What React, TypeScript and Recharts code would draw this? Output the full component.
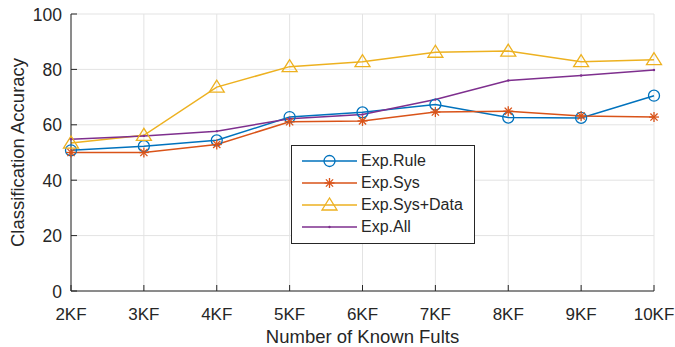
import { LineChart, Line, XAxis, YAxis, CartesianGrid, Legend } from 'recharts';

const categories = ['2KF', '3KF', '4KF', '5KF', '6KF', '7KF', '8KF', '9KF', '10KF'];
const expRule = [50.8, 52.3, 54.4, 62.8, 64.5, 67.3, 62.6, 62.5, 70.5];
const expSys = [50.0, 50.0, 52.9, 61.1, 61.4, 64.6, 64.9, 63.2, 62.8];
const expSysData = [53.4, 56.2, 73.6, 81.0, 82.8, 86.2, 86.6, 82.8, 83.5];
const expAll = [54.8, 56.0, 57.7, 62.2, 63.7, 69.1, 76.0, 77.8, 79.8];
const yTicks = [0, 20, 40, 60, 80, 100];

const data = categories.map((c, i) => ({
  name: c,
  rule: expRule[i],
  sys: expSys[i],
  sysData: expSysData[i],
  all: expAll[i],
}));

const BLUE = '#0072BD';
const ORANGE = '#D95319';
const YELLOW = '#EDB120';
const PURPLE = '#7E2F8E';
const TEXT = '#262626';
const FONT = '"Liberation Sans", Arial, sans-serif';

function Circle(cx: number, cy: number, color: string) {
  return <circle cx={cx} cy={cy} r={5.5} fill="none" stroke={color} strokeWidth={1.3} />;
}

function Star(cx: number, cy: number, color: string) {
  const s = 5;
  const d = 3.6;
  return (
    <g stroke={color} strokeWidth={1.3}>
      <line x1={cx - s} y1={cy} x2={cx + s} y2={cy} />
      <line x1={cx} y1={cy - s} x2={cx} y2={cy + s} />
      <line x1={cx - d} y1={cy - d} x2={cx + d} y2={cy + d} />
      <line x1={cx - d} y1={cy + d} x2={cx + d} y2={cy - d} />
    </g>
  );
}

function Triangle(cx: number, cy: number, color: string) {
  return (
    <polygon
      points={`${cx},${cy - 7} ${cx - 7.5},${cy + 5} ${cx + 7.5},${cy + 5}`}
      fill="none"
      stroke={color}
      strokeWidth={1.3}
    />
  );
}

function Point(cx: number, cy: number, color: string) {
  return <circle cx={cx} cy={cy} r={1.2} fill={color} />;
}

const series = [
  { key: 'rule', name: 'Exp.Rule', color: BLUE, marker: Circle },
  { key: 'sys', name: 'Exp.Sys', color: ORANGE, marker: Star },
  { key: 'sysData', name: 'Exp.Sys+Data', color: YELLOW, marker: Triangle },
  { key: 'all', name: 'Exp.All', color: PURPLE, marker: Point },
];

// MATLAB-style inward ticks, labels outside
const XTick = (props: any) => {
  const { x, y, payload } = props;
  return (
    <g>
      <line x1={x} y1={y} x2={x} y2={y - 6} stroke={TEXT} strokeWidth={1} />
      <text x={x} y={y + 29} textAnchor="middle" fill={TEXT} fontSize={17} fontFamily={FONT}>
        {payload.value}
      </text>
    </g>
  );
};

const YTick = (props: any) => {
  const { x, y, payload } = props;
  return (
    <g>
      <line x1={x} y1={y} x2={x + 6} y2={y} stroke={TEXT} strokeWidth={1} />
      <text x={x - 9} y={y + 6.5} textAnchor="end" fill={TEXT} fontSize={17.5} fontFamily={FONT}>
        {payload.value}
      </text>
    </g>
  );
};

const YLabel = (props: any) => {
  const { viewBox } = props;
  const cy = viewBox.y + viewBox.height / 2;
  const cx = 24;
  return (
    <text
      x={cx}
      y={cy}
      transform={`rotate(-90 ${cx} ${cy})`}
      textAnchor="middle"
      fill={TEXT}
      fontSize={18.5}
      fontFamily={FONT}
    >
      Classification Accuracy
    </text>
  );
};

const XLabel = (props: any) => {
  const { viewBox } = props;
  const cx = viewBox.x + viewBox.width / 2;
  return (
    <text x={cx} y={343} textAnchor="middle" fill={TEXT} fontSize={18.5} fontFamily={FONT}>
      Number of Known Fults
    </text>
  );
};

const renderLegend = () => (
  <div
    style={{
      border: '1px solid #262626',
      background: '#fff',
      padding: '4px 0 5px 0',
      fontFamily: FONT,
      fontSize: 16,
      color: TEXT,
      width: 184,
      boxSizing: 'border-box',
    }}
  >
    {series.map((s) => (
      <div key={s.key} style={{ display: 'flex', alignItems: 'center', height: 22 }}>
        <svg width={69} height={22} style={{ display: 'block' }}>
          <line x1={10} y1={11} x2={65} y2={11} stroke={s.color} strokeWidth={1.5} />
          {s.marker(37.5, 11, s.color)}
        </svg>
        <span>{s.name}</span>
      </div>
    ))}
  </div>
);

export default function App() {
  return (
    <div style={{ position: 'absolute', left: 0, top: 0, width: 675, height: 347, background: '#fff' }}>
      <LineChart width={675} height={347} data={data} margin={{ top: 14, right: 21, bottom: 16, left: 8 }}>
        <CartesianGrid stroke="#e3e3e3" strokeWidth={1} />
        <XAxis
          dataKey="name"
          stroke={TEXT}
          tickLine={false}
          tickSize={0}
          tickMargin={0}
          height={40}
          interval={0}
          tick={<XTick />}
          label={<XLabel />}
        />
        <YAxis
          domain={[0, 100]}
          ticks={yTicks}
          stroke={TEXT}
          tickLine={false}
          tickSize={0}
          tickMargin={0}
          width={63}
          tick={<YTick />}
          label={<YLabel />}
        />
        <Legend
          layout="vertical"
          align="center"
          verticalAlign="middle"
          content={renderLegend}
          wrapperStyle={{ left: 291, top: 145, width: 184, height: 'auto' }}
        />
        {series.map((s) => (
          <Line
            key={s.key}
            dataKey={s.key}
            name={s.name}
            stroke={s.color}
            strokeWidth={1.5}
            isAnimationActive={false}
            dot={(p: any) => <g key={`${s.key}-${p.index}`}>{s.marker(p.cx, p.cy, s.color)}</g>}
            activeDot={false}
          />
        ))}
      </LineChart>
    </div>
  );
}
